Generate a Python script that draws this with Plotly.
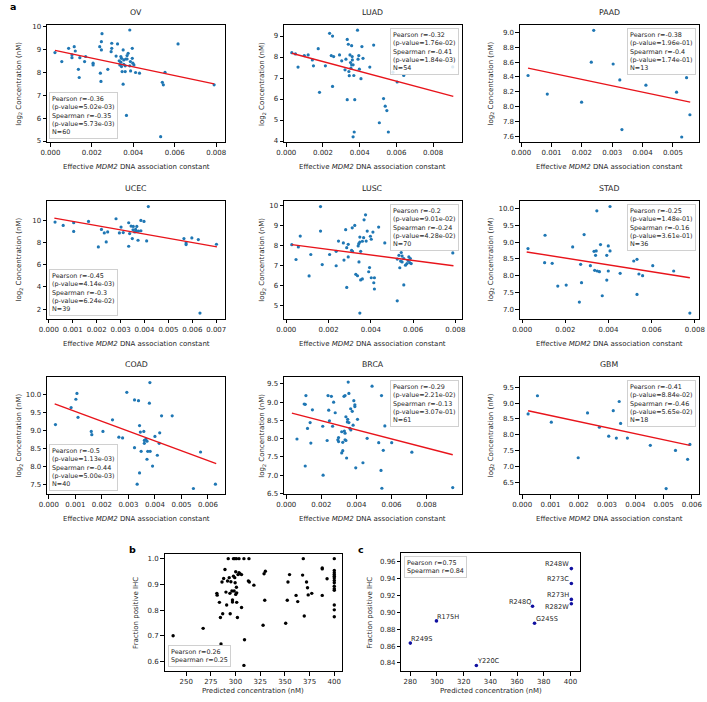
import plotly.graph_objects as go

# ---------------- data ----------------
ov_x = [0.00022,0.00055,0.00088,0.00104,0.00104,0.00115,0.00120,0.00135,0.00139,0.00142,
        0.00165,0.00170,0.00206,0.00206,0.00238,0.00241,0.00244,0.00246,0.00246,0.00249,
        0.00277,0.00296,0.00296,0.00293,0.00317,0.00324,0.00343,0.00340,0.00335,0.00343,
        0.00346,0.00351,0.00354,0.00354,0.00361,0.00361,0.00364,0.00370,0.00351,0.00375,
        0.00383,0.00383,0.00387,0.00395,0.00395,0.00398,0.00403,0.00411,0.00430,0.00367,
        0.00532,0.00540,0.00545,0.00553,0.00616,0.00790,0.00332,0.00340,0.00386,0.00370]
ov_y = [8.87,8.48,9.06,8.77,8.65,9.13,8.94,8.14,7.78,8.65,
        8.48,8.70,8.41,8.33,9.13,7.97,7.61,9.35,8.99,9.70,
        8.14,9.28,9.06,8.91,8.72,9.25,8.62,8.45,8.33,8.26,
        8.04,8.99,8.55,8.36,8.29,8.04,8.59,8.59,7.49,8.84,
        9.86,8.29,8.07,9.06,8.62,8.41,8.33,8.00,7.97,6.12,
        5.19,7.57,7.46,8.01,9.25,7.46,8.51,8.70,8.48,8.74]

luad_x = [0.00030,0.00050,0.00064,0.00098,0.00119,0.00142,0.00148,0.00174,0.00181,0.00213,
          0.00236,0.00245,0.00252,0.00258,0.00252,0.00290,0.00302,0.00320,0.00325,0.00332,
          0.00332,0.00338,0.00341,0.00343,0.00347,0.00350,0.00352,0.00356,0.00359,0.00356,
          0.00368,0.00373,0.00364,0.00360,0.00364,0.00370,0.00388,0.00391,0.00395,0.00398,
          0.00407,0.00412,0.00418,0.00455,0.00476,0.00507,0.00530,0.00539,0.00548,0.00556,
          0.00581,0.00604,0.00640,0.00907]
luad_y = [8.21,8.15,7.52,8.07,8.10,7.86,7.58,8.40,6.32,7.58,
          9.13,8.07,9.00,8.02,6.60,8.10,7.82,7.39,7.90,8.84,
          5.97,8.61,7.31,7.11,8.10,7.74,7.47,8.54,8.02,7.63,
          7.12,5.97,7.63,7.86,4.20,4.43,9.28,7.90,8.07,7.42,
          6.97,8.50,7.94,7.52,8.57,4.87,6.02,5.66,5.45,4.43,
          7.28,6.81,7.12,7.53]

paad_x = [0.000226,0.00086,0.00199,0.00231,0.00239,0.00303,0.00325,0.00332,0.00411,0.00512,
          0.00529,0.00545,0.00556]
paad_y = [8.42,8.17,8.06,8.60,9.03,8.575,8.36,7.69,8.29,8.195,
          7.59,8.39,7.89]

ucec_x = [0.00026,0.00060,0.00104,0.00104,0.00166,0.00207,0.00220,0.00232,0.00240,0.00246,
          0.00281,0.00295,0.00302,0.00334,0.00334,0.00338,0.00344,0.00349,0.00353,0.00359,
          0.00363,0.00368,0.00373,0.00375,0.00366,0.00385,0.00385,0.00398,0.00409,0.00416,
          0.00565,0.00574,0.00598,0.00625,0.00632,0.00701,0.00574,0.00352,0.00311]
ucec_y = [9.85,9.55,9.79,9.01,9.91,7.61,9.19,8.87,8.06,8.96,
          10.15,8.87,9.40,9.79,7.67,8.81,9.49,8.36,9.46,8.96,
          9.19,9.46,8.21,9.04,9.01,10.0,9.07,9.91,8.15,11.25,
          8.36,7.82,8.42,8.27,1.64,7.85,7.97,9.16,8.90]

lusc_x = [0.00026,0.00046,0.00057,0.00066,0.00108,0.00116,0.00162,0.00162,0.00170,0.00205,
          0.00236,0.00236,0.00247,0.00270,0.00281,0.00286,0.00286,0.00293,0.00293,0.00312,
          0.00313,0.00324,0.00329,0.00337,0.00340,0.00343,0.00344,0.00348,0.00348,0.00352,
          0.00360,0.00360,0.00366,0.00368,0.00375,0.00378,0.00383,0.00394,0.00390,0.00398,
          0.00402,0.00410,0.00414,0.00417,0.00417,0.00437,0.00348,0.00466,0.00525,0.00533,
          0.00544,0.00548,0.00548,0.00556,0.00556,0.00564,0.00571,0.00576,0.00584,0.00591,
          0.00580,0.00788,0.00537,0.00541,0.00525,0.00587,0.00309,0.00352,0.00402,0.00273]
lusc_y = [8.05,7.31,7.94,8.48,6.49,7.56,9.95,8.73,7.06,7.56,
          7.72,7.00,8.23,8.14,8.80,7.90,5.92,8.07,7.44,8.89,
          7.72,9.01,6.57,6.50,7.99,8.10,7.19,8.43,8.18,6.29,
          6.34,8.22,8.40,9.29,9.54,8.23,8.73,6.91,6.70,8.47,
          6.40,8.68,6.15,5.84,6.40,8.93,4.64,8.14,5.25,7.52,
          7.66,7.48,7.19,7.36,6.04,7.03,7.11,7.26,7.15,7.11,
          7.44,7.64,6.90,7.23,7.33,7.36,7.77,7.72,8.32,7.28]

stad_x = [0.00027,0.00104,0.00106,0.00139,0.00165,0.00204,0.00234,0.00271,0.00275,0.00265,
          0.00287,0.00316,0.00336,0.00340,0.00343,0.00346,0.00348,0.00363,0.00371,0.00392,
          0.00392,0.00399,0.00399,0.00407,0.00407,0.00454,0.00517,0.00532,0.00532,0.00541,
          0.00558,0.00605,0.00702,0.00777,0.00333,0.00358]
stad_y = [8.81,8.39,9.21,8.37,7.69,7.72,8.86,8.34,7.79,7.21,
          9.23,8.30,8.16,8.61,8.74,9.94,8.14,8.93,7.40,8.61,
          7.87,8.89,8.14,10.07,8.74,8.07,8.44,8.49,7.44,8.05,
          8.00,8.30,8.14,6.88,8.73,8.12]

coad_x = [0.00025,0.00084,0.00102,0.00106,0.00110,0.00160,0.00162,0.00204,0.00240,0.00264,
          0.00278,0.00294,0.00323,0.00323,0.00333,0.00338,0.00342,0.00342,0.00345,0.00348,
          0.00358,0.00360,0.00360,0.00366,0.00370,0.00370,0.00373,0.00379,0.00382,0.00391,
          0.00400,0.00409,0.00416,0.00418,0.00425,0.00381,0.00465,0.00572,0.00545,0.00628]
coad_y = [9.16,9.63,9.86,10.02,9.36,8.97,8.88,8.97,9.29,8.81,
          8.79,10.05,9.84,8.52,7.51,9.82,9.13,7.82,8.95,8.42,
          8.97,8.72,8.64,8.76,8.20,8.70,8.42,9.75,8.42,8.01,
          8.83,8.31,8.64,8.93,9.40,10.32,9.40,8.40,7.39,7.51]

brca_x = [0.00061,0.00108,0.00108,0.00112,0.00121,0.00136,0.00140,0.00149,0.00208,0.00210,
          0.00233,0.00238,0.00242,0.00246,0.00257,0.00264,0.00279,0.00294,0.00298,0.00316,
          0.00322,0.00322,0.00329,0.00335,0.00331,0.00335,0.00335,0.00340,0.00340,0.00344,
          0.00348,0.00350,0.00357,0.00357,0.00363,0.00368,0.00376,0.00385,0.00391,0.00391,
          0.00396,0.00406,0.00437,0.00461,0.00527,0.00540,0.00543,0.00545,0.00553,0.00562,
          0.00601,0.00716,0.00949,0.00353,0.00489,0.00102,0.00316,0.00381,0.00298,0.00367,
          0.00270]
brca_y = [7.99,7.25,8.94,9.18,8.28,8.44,7.88,8.79,8.34,7.00,
          7.95,9.18,8.78,8.49,9.16,8.34,8.71,7.97,8.03,7.61,
          7.67,7.90,9.16,9.18,8.21,8.15,7.97,7.95,8.60,7.47,
          8.46,8.53,9.24,8.44,8.28,8.24,8.75,9.04,8.93,8.88,
          7.20,8.53,7.34,8.01,7.89,7.13,9.18,6.64,7.68,8.35,
          7.89,7.63,6.66,9.55,9.44,8.95,8.19,8.37,7.92,8.82,
          9.00]

gbm_x = [0.00021,0.00054,0.00103,0.00198,0.00231,0.00273,0.00306,0.00322,0.00333,0.00343,
         0.00348,0.00372,0.00453,0.00509,0.00542,0.00585,0.00593]
gbm_y = [8.66,9.23,8.40,7.28,8.69,8.24,7.96,8.76,7.90,9.05,
         8.36,7.90,7.67,6.31,7.51,7.23,7.70]

# regression line end points
fit_x = {"OV": [0.00022, 0.0079], "LUAD": [0.0003, 0.0091], "PAAD": [0.000226, 0.00557],
         "UCEC": [0.00023, 0.00703], "LUSC": [0.00026, 0.00791], "STAD": [0.00021, 0.00777],
         "COAD": [0.00022, 0.00631], "BRCA": [0.00032, 0.00949], "GBM": [0.00021, 0.00593]}
fit_y = {"OV": [8.97, 7.50], "LUAD": [8.18, 6.13], "PAAD": [8.52, 8.06],
         "UCEC": [10.21, 7.61], "LUSC": [8.05, 7.00], "STAD": [8.71, 7.94],
         "COAD": [9.73, 8.08], "BRCA": [8.70, 7.56], "GBM": [8.76, 7.67]}

# statistics text: pearson r, p, spearman r, p, N
stats = {"OV": ["-0.36", "5.02e-03", "-0.35", "5.73e-03", 60],
         "LUAD": ["-0.32", "1.76e-02", "-0.41", "1.84e-03", 54],
         "PAAD": ["-0.38", "1.96e-01", "-0.4", "1.74e-01", 13],
         "UCEC": ["-0.45", "4.14e-03", "-0.3", "6.24e-02", 39],
         "LUSC": ["-0.2", "9.01e-02", "-0.24", "4.28e-02", 70],
         "STAD": ["-0.25", "1.48e-01", "-0.16", "3.61e-01", 36],
         "COAD": ["-0.5", "1.13e-03", "-0.44", "5.00e-03", 40],
         "BRCA": ["-0.29", "2.21e-02", "-0.13", "3.07e-01", 61],
         "GBM": ["-0.41", "8.84e-02", "-0.46", "5.65e-02", 18]}

b_x = [236.8,267.2,281.1,281.4,283.7,284.7,285.3,286.3,287.0,288.0,
       289.3,290.3,291.0,291.9,292.6,293.6,294.3,294.6,295.3,296.3,
       296.9,296.9,297.9,297.9,298.6,299.2,299.2,299.6,300.2,300.2,
       300.9,300.9,301.2,301.2,301.9,302.5,303.5,303.5,304.5,306.1,
       306.1,308.5,309.1,308.5,313.6,313.0,314.0,318.6,327.9,328.9,
       330.2,329.6,350.8,352.4,353.1,354.7,361.3,363.0,367.9,368.6,
       369.6,371.9,372.9,373.6,377.2,387.8,387.8,387.8,392.7,400,
       400,400,400,400,400,400,400,400,400,400,
       400,400,400]
b_y = [0.700,0.729,0.865,0.858,0.830,0.771,0.668,0.909,0.786,0.923,
       0.958,0.870,0.820,0.913,1.0,0.926,0.865,0.786,0.910,0.874,
       0.839,0.831,0.932,1.0,0.874,1.0,0.926,0.906,0.861,0.949,
       1.0,0.889,0.867,0.830,0.771,0.938,1.0,0.945,0.941,0.810,
       0.938,1.0,0.685,0.585,1.0,0.913,0.909,0.897,0.741,0.941,
       0.951,0.838,0.749,0.838,0.909,0.938,0.857,0.833,0.936,1.0,
       0.777,0.909,0.887,0.859,0.865,0.964,0.960,0.857,0.922,1.0,
       0.954,0.945,0.938,0.932,0.925,0.915,0.906,0.893,0.883,0.877,
       0.820,0.801,0.774]

c_labels = ["R249S", "R175H", "Y220C", "R248Q", "G245S", "R248W", "R273C", "R273H", "R282W"]
c_x = [280.0, 299.6, 329.5, 371.6, 373.1, 400.7, 400.7, 400.7, 400.7]
c_y = [0.8636, 0.8900, 0.8369, 0.9073, 0.8872, 0.9521, 0.9344, 0.9155, 0.9104]

# ---------------- layout helpers ----------------
W, H = 707, 702
FONT = "DejaVu Sans"
TXT = "#262626"

def xd(l, r):
    return [l / W, r / W]

def yd(t, b):
    return [1 - b / H, 1 - t / H]

cols = [(39, 221), (281, 462.5), (522, 705)]
rows = [(23.5, 141.5), (200, 319), (377.7, 496)]

def frange(a, b, s):
    out, v = [], a
    while v <= b + 1e-9:
        out.append(round(v, 6))
        v += s
    return out

panels = [
    # name, col, row, xrange, yrange, xticks, yticks, yfmt, legend position
    ("OV", 0, 0, [-0.000156, 0.00844], [4.935, 10.065], frange(0, 0.008, 0.002), frange(5, 10, 1), "d", "ll"),
    ("LUAD", 1, 0, [-0.000123, 0.009557], [3.93, 9.51], frange(0, 0.008, 0.002), frange(4, 9, 1), "d", "ur"),
    ("PAAD", 2, 0, [-0.000042, 0.005861], [7.516, 9.097], frange(0, 0.005, 0.001), frange(7.6, 9.0, 0.2), ".1f", "ur"),
    ("UCEC", 0, 1, [-0.0000696, 0.00738], [1.13, 11.79], frange(0, 0.007, 0.001), frange(2, 10, 2), "d", "ll"),
    ("LUSC", 1, 1, [-0.000107, 0.0083], [4.356, 10.25], frange(0, 0.008, 0.002), frange(5, 10, 1), "d", "ur"),
    ("STAD", 2, 1, [-0.000104, 0.008195], [6.712, 10.247], frange(0, 0.008, 0.002), frange(7.0, 10.0, 0.5), ".1f", "ur"),
    ("COAD", 0, 2, [-0.0000627, 0.006653], [7.225, 10.475], frange(0, 0.006, 0.001), frange(7.5, 10.0, 0.5), ".1f", "ll"),
    ("BRCA", 1, 2, [-0.000128, 0.0100], [6.47, 9.69], frange(0, 0.008, 0.002), frange(6.5, 9.5, 0.5), ".1f", "ur"),
    ("GBM", 2, 2, [-0.0000796, 0.006253], [6.125, 9.82], frange(0, 0.006, 0.001), frange(6.5, 9.5, 0.5), ".1f", "ur"),
]
series = {"OV": (ov_x, ov_y), "LUAD": (luad_x, luad_y), "PAAD": (paad_x, paad_y),
          "UCEC": (ucec_x, ucec_y), "LUSC": (lusc_x, lusc_y), "STAD": (stad_x, stad_y),
          "COAD": (coad_x, coad_y), "BRCA": (brca_x, brca_y), "GBM": (gbm_x, gbm_y)}

def axis(domain, rng, tickvals, fmt, anchor):
    return dict(domain=domain, range=rng, tickvals=tickvals, tickformat=fmt, anchor=anchor,
                showline=True, mirror=True, linecolor="black", linewidth=1,
                ticks="outside", ticklen=3.5, tickwidth=0.9, tickcolor="black",
                showgrid=False, zeroline=False, fixedrange=True,
                tickfont=dict(family=FONT, size=7, color=TXT))

fig = go.Figure()
layout = {}
annotations = []

def names(i):
    s = "" if i == 1 else str(i)
    return "x" + s, "y" + s, "xaxis" + s, "yaxis" + s

for i, (name, c, r, xr, yr, xt, yt, yfmt, lpos) in enumerate(panels, start=1):
    xn, yn, xk, yk = names(i)
    l, rr = cols[c]
    t, b = rows[r]
    layout[xk] = axis(xd(l, rr), xr, xt, ".3f", yn)
    layout[yk] = axis(yd(t, b), yr, yt, yfmt, xn)
    px, py = series[name]
    fig.add_trace(go.Scatter(x=px, y=py, mode="markers", xaxis=xn, yaxis=yn,
                             marker=dict(size=3.2, color="#1f77b4"), showlegend=False))
    fig.add_trace(go.Scatter(x=fit_x[name], y=fit_y[name], mode="lines", xaxis=xn, yaxis=yn,
                             line=dict(color="#e8141b", width=1.4), showlegend=False))
    # title
    annotations.append(dict(text=name, xref="paper", yref="paper", x=(l + rr) / 2 / W,
                            y=1 - (t - 6) / H, xanchor="center", yanchor="bottom", showarrow=False,
                            font=dict(family=FONT, size=7.8, color=TXT)))
    # x label
    annotations.append(dict(text="Effective <i>MDM2</i> DNA association constant", xref="paper", yref="paper",
                            x=(l + rr) / 2 / W, y=1 - (b + 25) / H, xanchor="center", yanchor="middle",
                            showarrow=False, font=dict(family=FONT, size=7, color=TXT)))
    # y label
    ylx = [10, 258.5, 492][c]
    annotations.append(dict(text="log<sub>2</sub> Concentration (nM)", xref="paper", yref="paper",
                            x=ylx / W, y=1 - (t + b) / 2 / H, xanchor="center", yanchor="middle",
                            textangle=-90, showarrow=False, font=dict(family=FONT, size=7, color=TXT)))
    st = stats[name]
    txt = ("Pearson r=%s<br>(p-value=%s)<br>Spearman r=%s<br>(p-value=%s)<br>N=%d"
           % (st[0], st[1], st[2], st[3], st[4]))
    if lpos == "ll":
        pos = dict(x=0, y=0, xanchor="left", yanchor="bottom", xshift=2, yshift=3)
    else:
        pos = dict(x=1, y=1, xanchor="right", yanchor="top", xshift=-3, yshift=-3)
    annotations.append(dict(text=txt, xref=xn + " domain", yref=yn + " domain", showarrow=False,
                            align="left", bgcolor="rgba(255,255,255,0.85)", bordercolor="#d0d0d0",
                            borderwidth=1, borderpad=2,
                            font=dict(family=FONT, size=6.4, color=TXT), **pos))

# panel b
i = 10
xn, yn, xk, yk = names(i)
layout[xk] = axis(xd(159, 340), [228.2, 407.6], frange(250, 400, 25), "d", yn)
layout[yk] = axis(yd(555.7, 674), [0.5625, 1.019], frange(0.6, 1.0, 0.1), ".1f", xn)
fig.add_trace(go.Scatter(x=b_x, y=b_y, mode="markers", xaxis=xn, yaxis=yn,
                         marker=dict(size=3.4, color="black"), showlegend=False))
annotations.append(dict(text="Pearson r=0.26<br>Spearman r=0.25", xref=xn + " domain", yref=yn + " domain",
                        x=0, y=0, xanchor="left", yanchor="bottom", xshift=3, yshift=4, showarrow=False,
                        align="left", bgcolor="white", bordercolor="#d0d0d0", borderwidth=1, borderpad=2,
                        font=dict(family=FONT, size=6.4, color=TXT)))
annotations.append(dict(text="Predicted concentration (nM)", xref="paper", yref="paper",
                        x=(159 + 340) / 2 / W, y=1 - 694 / H, xanchor="center", yanchor="middle",
                        showarrow=False, font=dict(family=FONT, size=7, color=TXT)))
annotations.append(dict(text="Fraction positive IHC", xref="paper", yref="paper",
                        x=129 / W, y=1 - 615 / H, xanchor="center", yanchor="middle", textangle=-90,
                        showarrow=False, font=dict(family=FONT, size=7, color=TXT)))

# panel c
i = 11
xn, yn, xk, yk = names(i)
layout[xk] = axis(xd(401, 583), [273.4, 406.9], frange(280, 400, 20), "d", yn)
layout[yk] = axis(yd(555, 674), [0.8302, 0.9706], frange(0.84, 0.96, 0.02), ".2f", xn)
fig.add_trace(go.Scatter(x=c_x, y=c_y, mode="markers", xaxis=xn, yaxis=yn,
                         marker=dict(size=3.6, color="#1010a0"), showlegend=False))
label_pos = {"R249S": ("left", 4.5), "R175H": ("left", 4.2), "Y220C": ("left", 4.2),
             "G245S": ("left", 4.5), "R248Q": ("right", 4.5), "R248W": ("right", 4.2),
             "R273C": ("right", 4.5), "R273H": ("right", 4.3), "R282W": ("right", -3.3)}
for lab, x, y in zip(c_labels, c_x, c_y):
    xa, ys = label_pos[lab]
    annotations.append(dict(text=lab, xref=xn, yref=yn, x=x, y=y, xanchor=xa, yanchor="middle",
                            showarrow=False, xshift=0 if xa == "left" else -1, yshift=ys, borderpad=0,
                            font=dict(family=FONT, size=6.6, color=TXT)))
annotations.append(dict(text="Pearson r=0.75<br>Spearman r=0.84", xref=xn + " domain", yref=yn + " domain",
                        x=0, y=1, xanchor="left", yanchor="top", xshift=3, yshift=-3, showarrow=False,
                        align="left", bgcolor="white", bordercolor="#d0d0d0", borderwidth=1, borderpad=2,
                        font=dict(family=FONT, size=6.4, color=TXT)))
annotations.append(dict(text="Predicted concentration (nM)", xref="paper", yref="paper",
                        x=(401 + 583) / 2 / W, y=1 - 694 / H, xanchor="center", yanchor="middle",
                        showarrow=False, font=dict(family=FONT, size=7, color=TXT)))
annotations.append(dict(text="Fraction positive IHC", xref="paper", yref="paper",
                        x=368 / W, y=1 - 615 / H, xanchor="center", yanchor="middle", textangle=-90,
                        showarrow=False, font=dict(family=FONT, size=7, color=TXT)))

# panel letters
for letter, x, y in [("a", 4, 5), ("b", 126, 551), ("c", 360, 551)]:
    annotations.append(dict(text="<b>%s</b>" % letter, xref="paper", yref="paper", x=x / W, y=1 - y / H,
                            xanchor="center", yanchor="middle", showarrow=False,
                            font=dict(family=FONT, size=9.5, color="black")))

fig.update_layout(width=W, height=H, margin=dict(l=0, r=0, t=0, b=0),
                  paper_bgcolor="white", plot_bgcolor="white",
                  font=dict(family=FONT, size=7, color=TXT),
                  annotations=annotations, **layout)

fig.write_html("out.html", config={"displayModeBar": False},
               post_script="document.body.style.margin='0px';document.body.style.overflow='hidden';")
